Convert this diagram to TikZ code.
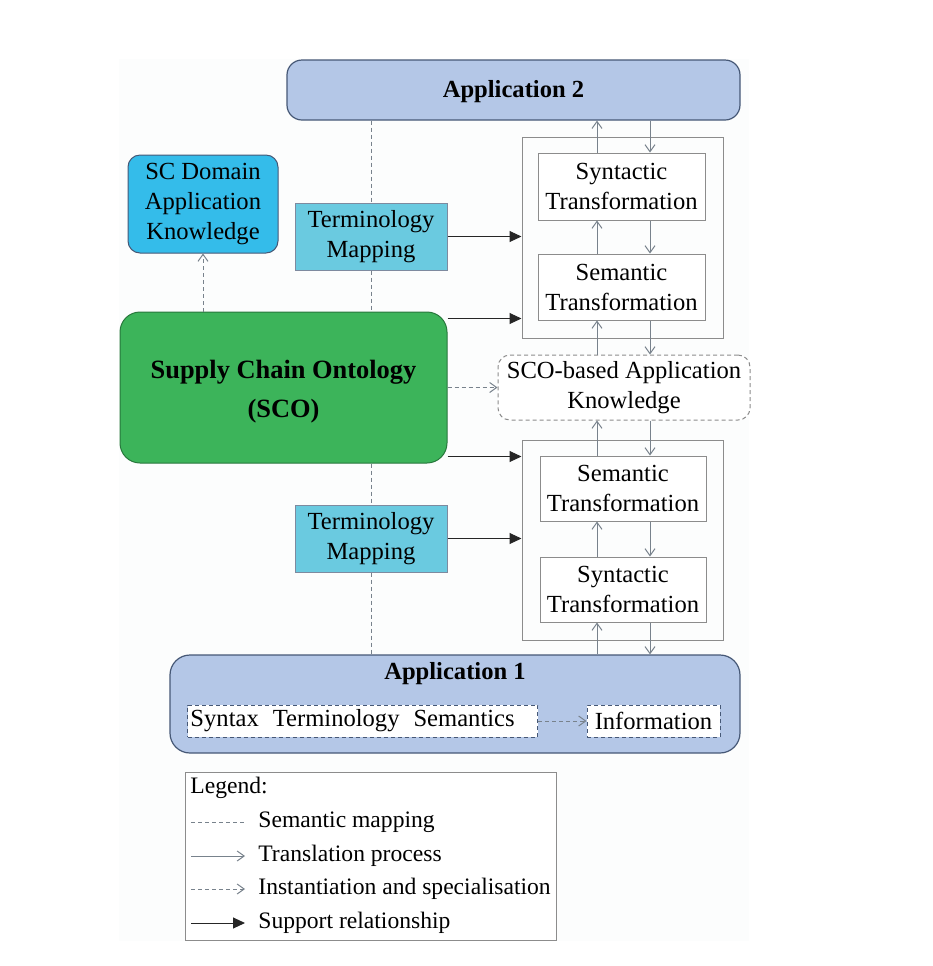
\documentclass[tikz,border=0pt]{standalone}
\usepackage{fontspec}
\setmainfont{Liberation Serif}
\usetikzlibrary{arrows.meta,calc}
\definecolor{appfill}{RGB}{180,199,231}
\definecolor{appdraw}{RGB}{70,88,118}
\definecolor{scdfill}{RGB}{52,188,234}
\definecolor{tmfill}{RGB}{106,202,224}
\definecolor{scofill}{RGB}{60,180,90}
\definecolor{scodraw}{RGB}{40,120,60}
\definecolor{linec}{RGB}{120,130,140}
\definecolor{framec}{RGB}{140,140,140}
\definecolor{bgc}{RGB}{252,253,253}
\tikzset{
  txt/.style={font=\fontsize{12.3}{15}\selectfont, align=center, inner sep=0pt},
  ttl/.style={font=\fontsize{12.3}{15}\selectfont\bfseries},
  appbox/.style={txt, draw=appdraw, fill=appfill, rounded corners=7.5pt, line width=0.6pt},
  scdbox/.style={txt, draw=appdraw, fill=scdfill, rounded corners=6pt, line width=0.5pt},
  tmbox/.style={txt, draw=appdraw!70, fill=tmfill, line width=0.5pt},
  scobox/.style={draw=scodraw, fill=scofill, rounded corners=10pt, line width=0.5pt, align=center, inner sep=0pt,
     font=\fontsize{13.2}{19.5}\selectfont\bfseries},
  framebox/.style={draw=framec, line width=0.5pt, inner sep=0pt},
  trbox/.style={txt, draw=framec, fill=white, line width=0.5pt},
  knowbox/.style={txt, draw=framec, dash pattern=on 2pt off 1.5pt, fill=white, rounded corners=6pt, line width=0.5pt},
  infobox/.style={txt, draw=appdraw, dash pattern=on 2pt off 1.5pt, fill=white, line width=0.5pt},
  sem/.style={draw=linec, dash pattern=on 2pt off 1.5pt, line width=0.5pt},
  trans/.style={draw=linec, line width=0.5pt, -{Straight Barb[length=3.5pt,width=5pt]}},
  inst/.style={draw=linec, dash pattern=on 2pt off 1.5pt, line width=0.5pt, -{Straight Barb[length=3.5pt,width=5pt]}},
  supp/.style={draw=black!85, line width=0.5pt, -{Triangle[length=6pt,width=5.5pt]}},
  legtxt/.style={txt, font=\fontsize{11.8}{14}\selectfont, anchor=west}
}
\begin{document}
\begin{tikzpicture}[x=0.5pt,y=-0.5pt]
\useasboundingbox (0,0) rectangle (933,966);
\fill[bgc] (119,59) rectangle (749,941);

% main boxes
\node[appbox, minimum width=226.5pt, minimum height=30pt] (app2) at (513.5,90) {};
\node[txt, ttl] (app2t) at (513.5,91.5) {Application 2};
\node[scdbox, minimum width=75pt, minimum height=49pt] (scd) at (203,204) {SC Domain\\Application\\Knowledge};
\node[tmbox, minimum width=76pt, minimum height=33.5pt] (tm1) at (371,236.5) {Terminology\\Mapping};
\node[tmbox, minimum width=76pt, minimum height=33.5pt] (tm2) at (371,538.5) {Terminology\\Mapping};
\node[scobox, minimum width=163.5pt, minimum height=75.5pt] (sco) at (283.5,387.5) {};
\node[scobox, fill=none, draw=none] (scot) at (283.5,391.5) {Supply Chain Ontology\\(SCO)};

\node[framebox, minimum width=100.5pt, minimum height=100.5pt] (fr1) at (622.5,237.5) {};
\node[trbox, minimum width=83.5pt, minimum height=33.5pt] (st1) at (621.5,186.5) {Syntactic\\Transformation};
\node[trbox, minimum width=83.5pt, minimum height=33pt] (se1) at (621.5,287) {Semantic\\Transformation};

\node[knowbox, minimum width=126pt, minimum height=32.5pt] (know) at (624,387.5) {SCO-based Application\\Knowledge};

\node[framebox, minimum width=100.5pt, minimum height=100pt] (fr2) at (622.5,540) {};
\node[trbox, minimum width=83pt, minimum height=32.5pt] (se2) at (623,488.5) {Semantic\\Transformation};
\node[trbox, minimum width=83pt, minimum height=32.5pt] (st2) at (623,589.5) {Syntactic\\Transformation};

\node[appbox, rounded corners=10pt, minimum width=285pt, minimum height=49pt] (app1) at (455,704) {};
\node[txt, ttl] (app1t) at (455,674) {Application 1};
\node[infobox, text width=172pt, align=left, inner xsep=1.5pt, minimum height=16pt, text depth=3pt] (sts) at (362.5,721) {Syntax\hspace{7pt}Terminology\hspace{7pt}Semantics};
\node[infobox, minimum width=66.5pt, minimum height=16pt] (info) at (653.5,721) {Information};

% column coordinates for translation arrows
\coordinate (up) at (597,0);
\coordinate (dn) at (650,0);

% translation arrows, upper stack
\draw[trans] (st1.north -| up) -- (app2.south -| up);
\draw[trans] (app2.south -| dn) -- (st1.north -| dn);
\draw[trans] (se1.north -| up) -- (st1.south -| up);
\draw[trans] (st1.south -| dn) -- (se1.north -| dn);
\draw[trans] (know.north -| up) -- (se1.south -| up);
\draw[trans] (se1.south -| dn) -- (know.north -| dn);
% lower stack
\draw[trans] (se2.north -| up) -- (know.south -| up);
\draw[trans] (know.south -| dn) -- (se2.north -| dn);
\draw[trans] (st2.north -| up) -- (se2.south -| up);
\draw[trans] (se2.south -| dn) -- (st2.north -| dn);
\draw[trans] (app1.north -| up) -- (st2.south -| up);
\draw[trans] (st2.south -| dn) -- (app1.north -| dn);

% support relationships
\draw[supp] (tm1.east) -- (tm1.east -| fr1.west);
\draw[supp] ([yshift=-3.5pt]sco.north east) -- ([yshift=-3.5pt]sco.north east -| fr1.west);
\draw[supp] ([yshift=3.5pt]sco.south east) -- ([yshift=3.5pt]sco.south east -| fr2.west);
\draw[supp] (tm2.east) -- (tm2.east -| fr2.west);

% semantic mapping
\draw[sem] (app2.south -| tm1) -- (tm1.north);
\draw[sem] (tm1.south) -- (sco.north -| tm1);
\draw[sem] (sco.south -| tm2) -- (tm2.north);
\draw[sem] (tm2.south) -- (app1.north -| tm2);

% instantiation
\draw[inst] (sco.north -| scd) -- (scd.south);
\draw[inst] (sco.east) -- (know.west);
\draw[inst] (sts.east) -- (info.west);

% legend
\node[draw=framec, fill=white, line width=0.5pt, minimum width=185.5pt, minimum height=84pt, inner sep=0pt] (leg) at (370.5,856) {};
\node[legtxt] (lg0) at (190,788) {Legend:};
\node[legtxt] (lg1) at (258,822) {Semantic mapping};
\node[legtxt] (lg2) at (258,856) {Translation process};
\node[legtxt] (lg3) at (258,889) {Instantiation and specialisation};
\node[legtxt] (lg4) at (258,923) {Support relationship};
\coordinate (ls1) at (191,822);
\coordinate (ls2) at (191,856);
\coordinate (ls3) at (191,889);
\coordinate (ls4) at (191,923);
\draw[sem] (ls1) -- ([xshift=-6.5pt]lg1.west);
\draw[trans] (ls2) -- ([xshift=-6.5pt]lg2.west);
\draw[inst] (ls3) -- ([xshift=-6.5pt]lg3.west);
\draw[supp] (ls4) -- ([xshift=-6.5pt]lg4.west);
\end{tikzpicture}
\end{document}
